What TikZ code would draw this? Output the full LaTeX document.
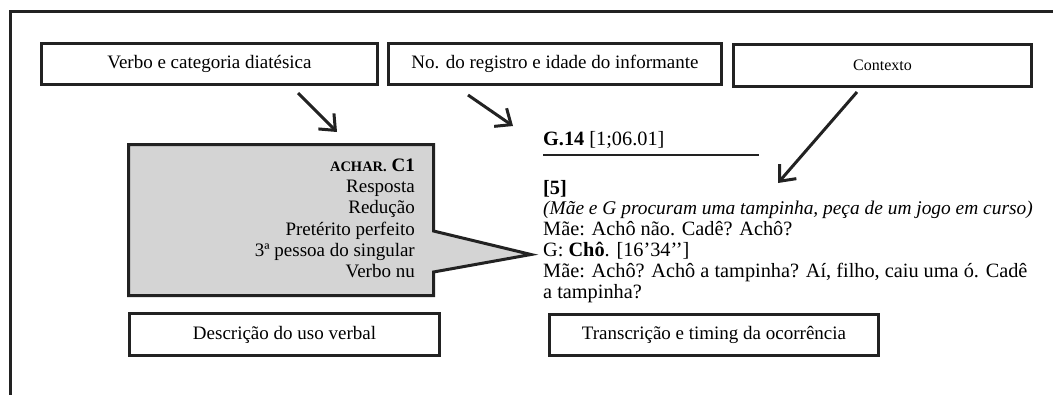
\documentclass[tikz,border=0pt]{standalone}
\usepackage{fontspec}
\setmainfont{Liberation Serif}
\usetikzlibrary{arrows.meta}
\definecolor{ink}{HTML}{222222}
\definecolor{callgray}{HTML}{D4D4D4}
\newcommand\myfs[1]{\fontsize{#1}{#1}\selectfont}
\tikzset{
  lbl/.style={draw=ink, line width=3pt, fill=white, inner sep=0pt, font=\myfs{19}},
  ptr/.style={draw=ink, line width=3pt, -{Straight Barb[length=13pt,width=22pt]}},
  txt/.style={inner sep=0pt, anchor=base west, font=\myfs{20.3}},
  ctxt/.style={inner sep=0pt, anchor=base east, font=\myfs{19}},
}
\begin{document}
\begin{tikzpicture}[x=1pt,y=-1pt]
\useasboundingbox (0,0) rectangle (1053,394);
% outer frame
\draw[ink, line width=3pt] (10,400) -- (10,11) -- (1060,11);

% label boxes
\node[lbl, minimum width=336pt, minimum height=41pt] (verbo) at (209.5,64) {Verbo e categoria diatésica};
\node[lbl, minimum width=333pt, minimum height=41pt] (registro) at (555,64) {No. do registro e idade do informante};
\node[lbl, minimum width=298pt, minimum height=42pt, font=\myfs{16}] (contexto) at (882.5,65.5) {Contexto};
\node[lbl, minimum width=310pt, minimum height=42pt] (descricao) at (284.5,334.5) {Descrição do uso verbal};
\node[lbl, minimum width=329pt, minimum height=41pt] (transcricao) at (714,335) {Transcrição e timing da ocorrência};

% callout
\coordinate (tip) at (531,254.5);
\draw[ink, line width=3pt, fill=callgray, line join=miter]
  (128.5,144.5) -- (433.5,144.5) -- (433.5,231) -- (tip) -- (433.5,272) -- (433.5,295.5) -- (128.5,295.5) -- cycle;

\node[ctxt] (c1) at (415,171) {\textbf{{\myfs{14.5}ACHAR.} C1}};
\node[ctxt] (c2) at (415,192) {Resposta};
\node[ctxt] (c3) at (415,213.5) {Redução};
\node[ctxt] (c4) at (415,235) {Pretérito perfeito};
\node[ctxt] (c5) at (415,256) {3ª pessoa do singular};
\node[ctxt] (c6) at (415,277) {Verbo nu};

% record heading
\node[txt] (g14) at (543,145) {\textbf{G.14} [1;06.01]};
\coordinate (ulA) at (543,154.5);
\coordinate (ulB) at (759,154.5);
\draw[ink, line width=2pt] (ulA) -- (ulB);

% transcription
\node[txt] (t1) at (543,194) {\textbf{[5]}};
\node[txt, font=\myfs{19.4}] (t2) at (543,214.5) {\textit{(Mãe e G procuram uma tampinha, peça de um jogo em curso)}};
\node[txt] (t3) at (543,235.5) {Mãe: Achô não. Cadê? Achô?};
\node[txt] (t4) at (543,256.5) {G: \textbf{Chô}. [16’34’’]};
\node[txt] (t5) at (543,277.5) {Mãe: Achô? Achô a tampinha? Aí, filho, caiu uma ó. Cadê};
\node[txt] (t6) at (543,298.5) {a tampinha?};

% arrows
\coordinate (a1s) at (298,93);
\coordinate (a1e) at (337,132);
\coordinate (a2s) at (468,95);
\coordinate (a2e) at (513,126);
\coordinate (a3s) at (857,92);
\coordinate (a3e) at (778,183);
\draw[ptr] (a1s) -- (a1e);
\draw[ptr] (a2s) -- (a2e);
\draw[ptr] (a3s) -- (a3e);
\end{tikzpicture}
\end{document}
